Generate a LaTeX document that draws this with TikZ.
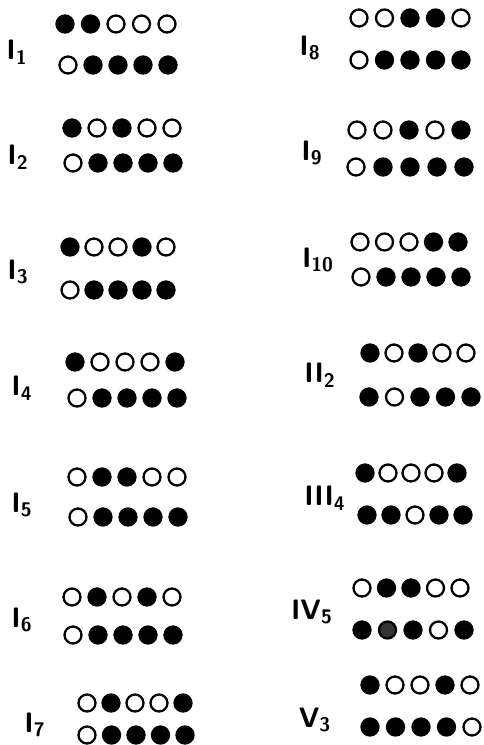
\documentclass[tikz,border=0pt]{standalone}
\usepackage{tikz}
\usetikzlibrary{positioning}

% one row of five beads: name, x, y, spacing, pattern (0 open, 1 full, 2 grey)
\newcommand{\beadrow}[5]{%
  \foreach \b [count=\k] in {#5} {%
    \node[bead\b] (#1-\k) at ({#2+#4*(\k-1)},#3) {};
  }%
}

\begin{document}
\begin{tikzpicture}[
  x=0.2mm,y=-0.2mm,
  bead/.style={circle,draw,line width=1.3pt,minimum size=3.4mm,inner sep=0pt},
  bead0/.style={bead},
  bead1/.style={bead,fill=black},
  bead2/.style={bead,fill=black!80},
  lbl/.style={font=\fontsize{16}{18}\selectfont\sffamily\bfseries,inner sep=0pt}
]
  \useasboundingbox (0,0) rectangle (484,745);

  % left column
  \node[lbl] (l1) at (17,52) {I\textsubscript{1}};
  \beadrow{I1t}{65}{24}{25.5}{1,1,0,0,0}
  \beadrow{I1b}{68}{65}{25}{0,1,1,1,1}

  \node[lbl] (l2) at (18,157) {I\textsubscript{2}};
  \beadrow{I2t}{72}{128}{25}{1,0,1,0,0}
  \beadrow{I2b}{73}{163}{25}{0,1,1,1,1}

  \node[lbl] (l3) at (18,272) {I\textsubscript{3}};
  \beadrow{I3t}{70}{247}{24}{1,0,0,1,0}
  \beadrow{I3b}{70}{290}{24}{0,1,1,1,1}

  \node[lbl] (l4) at (22,388) {I\textsubscript{4}};
  \beadrow{I4t}{75}{362}{25}{1,0,0,0,1}
  \beadrow{I4b}{77}{398}{25}{0,1,1,1,1}

  \node[lbl] (l5) at (22,505) {I\textsubscript{5}};
  \beadrow{I5t}{77}{477}{25}{0,1,1,0,0}
  \beadrow{I5b}{78}{517}{25}{0,1,1,1,1}

  \node[lbl] (l6) at (22,620) {I\textsubscript{6}};
  \beadrow{I6t}{72}{597}{25}{0,1,0,1,0}
  \beadrow{I6b}{73}{635}{25}{0,1,1,1,1}

  \node[lbl] (l7) at (35,725) {I\textsubscript{7}};
  \beadrow{I7t}{87}{703}{24}{0,1,0,0,1}
  \beadrow{I7b}{87}{735}{24.5}{0,1,1,1,1}

  % right column
  \node[lbl] (l8) at (310,48) {I\textsubscript{8}};
  \beadrow{I8t}{359}{18}{25.5}{0,0,1,1,0}
  \beadrow{I8b}{359}{60}{25.5}{0,1,1,1,1}

  \node[lbl] (l9) at (312,153) {I\textsubscript{9}};
  \beadrow{I9t}{357}{130}{26}{0,0,1,0,1}
  \beadrow{I9b}{356}{167}{27}{0,1,1,1,1}

  \node[lbl] (l10) at (318,260) {I\textsubscript{10}};
  \beadrow{I10t}{360}{242}{24.5}{0,0,0,1,1}
  \beadrow{I10b}{361}{277}{25}{0,1,1,1,1}

  \node[lbl] (l11) at (320,375) {II\textsubscript{2}};
  \beadrow{II2t}{370}{353}{24}{1,0,1,0,0}
  \beadrow{II2b}{369}{397}{25.5}{1,0,1,1,1}

  \node[lbl] (l12) at (325,498) {III\textsubscript{4}};
  \beadrow{III4t}{365}{473}{23}{1,0,0,0,1}
  \beadrow{III4b}{367}{515}{24}{1,1,0,1,1}

  \node[lbl] (l13) at (312,612) {IV\textsubscript{\=5}};
  \beadrow{IV5t}{362}{588}{24.5}{0,1,1,0,0}
  \beadrow{IV5b}{362}{630}{25.5}{1,2,1,0,1}

  \node[lbl] (l14) at (315,720) {V\textsubscript{3}};
  \beadrow{V3t}{370}{685}{25}{1,0,0,1,0}
  \beadrow{V3b}{370}{727}{25.5}{1,1,1,1,0}
\end{tikzpicture}
\end{document}
